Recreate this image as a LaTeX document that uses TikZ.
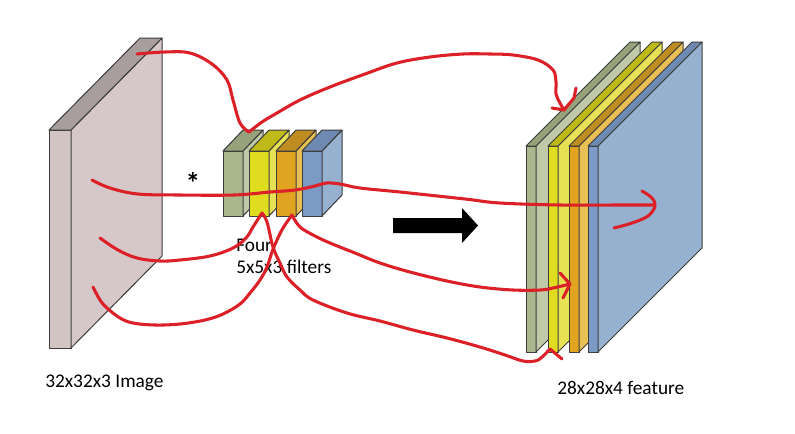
\documentclass[tikz,border=0pt]{standalone}
\usepackage{fontspec}
\setmainfont{Carlito}
\usepackage{xcolor}

% colori
\definecolor{bordo}{RGB}{60,60,60}
\definecolor{penna}{RGB}{220,32,40}
\definecolor{imgF}{RGB}{211,196,196}
\definecolor{imgS}{RGB}{214,200,200}
\definecolor{imgT}{RGB}{168,158,158}
\definecolor{verdeF}{RGB}{168,184,140}
\definecolor{verdeS}{RGB}{192,202,168}
\definecolor{verdeT}{RGB}{150,162,122}
\definecolor{gialloF}{RGB}{224,220,32}
\definecolor{gialloS}{RGB}{230,226,84}
\definecolor{gialloT}{RGB}{192,186,24}
\definecolor{aranF}{RGB}{224,164,32}
\definecolor{aranS}{RGB}{232,192,84}
\definecolor{aranT}{RGB}{190,140,32}
\definecolor{bluF}{RGB}{124,154,198}
\definecolor{bluS}{RGB}{150,176,208}
\definecolor{bluT}{RGB}{110,138,178}

\tikzset{
  faccia/.style={draw=bordo, line width=0.75pt, line join=round},
  rosso/.style={draw=penna, line width=2.3pt, line cap=round, line join=round},
  etichetta/.style={inner sep=0pt, font=\fontsize{14.5}{16.5}\selectfont}
}

% blocco: x, y, larghezza, altezza, dx, dy, fronte, lato, sopra
\newcommand{\blocco}[9]{%
  \filldraw[faccia, fill=#7] (#1,#2) rectangle ({#1+#3},{#2+#4});
  \filldraw[faccia, fill=#8] ({#1+#3},#2) -- ({#1+#3+#5},{#2-#6})
    -- ({#1+#3+#5},{#2+#4-#6}) -- ({#1+#3},{#2+#4}) -- cycle;
  \filldraw[faccia, fill=#9] (#1,#2) -- ({#1+#5},{#2-#6})
    -- ({#1+#3+#5},{#2-#6}) -- ({#1+#3},#2) -- cycle;
}

\begin{document}
\begin{tikzpicture}[x=0.75pt, y=-0.75pt]
  \useasboundingbox (0,0) rectangle (795,433);

  % Immagine di ingresso
  \blocco{49}{130}{22}{218}{91}{92}{imgF}{imgS}{imgT}

  % Filtri
  \blocco{223}{151}{20}{65}{20}{21}{verdeF}{verdeS}{verdeT}
  \blocco{249}{151}{20}{65}{20}{21}{gialloF}{gialloS}{gialloT}
  \blocco{276}{151}{20}{65}{20}{21}{aranF}{aranS}{aranT}
  \blocco{302}{151}{20}{65}{20}{21}{bluF}{bluS}{bluT}

  % Mappe di attivazione
  \blocco{526}{146}{10}{206}{104}{104}{verdeF}{verdeS}{verdeT}
  \blocco{548}{146}{10}{206}{104}{104}{gialloF}{gialloS}{gialloT}
  \blocco{569}{146}{10}{206}{104}{104}{aranF}{aranS}{aranT}
  \blocco{588}{146}{10}{206}{104}{104}{bluF}{bluS}{bluT}

  % Freccia nera
  \fill[black] (393,218) -- (462,218) -- (462,208) -- (478,225.5)
    -- (462,243) -- (462,233) -- (393,233) -- cycle;

  % Testi
  \node[etichetta, anchor=base west] (imgtxt) at (45,387) {32x32x3 Image};
  \node[etichetta, anchor=base west] (feattxt) at (557,394) {28x28x4 feature};
  \node[etichetta, anchor=base west, align=left] (filtxt) at (236,273)
    {Four\\5x5x3 filters};
  \node[inner sep=0pt, anchor=base, font=\fontsize{22}{22}\selectfont\bfseries]
    (conv) at (193,193) {*};

  % Tratti rossi
  \draw[rosso] plot[smooth, tension=0.6] coordinates {(137,54) (165,52) (190,53)
    (212,64) (227,80) (233,100) (240,123) (249,132)}
    -- plot[smooth, tension=0.6] coordinates {(249,132) (262,122) (277,113)
    (300,100) (330,87) (365,74) (397,63) (430,57) (463,54) (490,54) (513,55)
    (538,60) (553,70) (556,82) (556,94) (560,103) (564,110)};
  \draw[rosso] (552,108) -- (564,110) -- (574,98) -- (576,88);

  \draw[rosso] plot[smooth, tension=0.6] coordinates {(92,180) (110,188)
    (138,194) (180,195) (234,195) (270,192) (295,190) (315,186) (326,183)
    (340,184) (360,188) (400,192) (465,199) (500,203) (560,205) (620,205)
    (653,205)};
  \draw[rosso] plot[smooth, tension=0.6] coordinates {(642,191) (652,198)
    (655,206) (648,216) (632,223) (614,228)};

  \draw[rosso] plot[smooth, tension=0.6] coordinates {(100,238) (118,250)
    (137,258) (160,261) (180,260) (210,256) (233,248) (246,238) (253,227)
    (262,213)}
    -- plot[smooth, tension=0.6] coordinates {(262,213) (267,222) (273,247)
    (280,263) (287,277) (300,290) (313,300) (347,313) (380,321) (413,330)
    (447,338) (480,347) (505,355) (523,361) (535,361) (541,358) (550,349)};
  \draw[rosso] (550,349) -- (562,359);

  \draw[rosso] plot[smooth, tension=0.6] coordinates {(93,287) (100,300)
    (107,308) (120,318) (133,323) (155,325) (180,324) (205,320) (223,314)
    (240,304) (250,293) (260,280) (267,267) (272,252) (277,240) (283,228)
    (292,215)}
    -- plot[smooth, tension=0.6] coordinates {(292,215) (300,227) (315,236)
    (330,243) (355,253) (380,263) (410,272) (447,281) (480,287) (513,290)
    (540,290) (553,288) (570,284)};
  \draw[rosso] (560,273) -- (570,284) -- (563,298);
\end{tikzpicture}
\end{document}
